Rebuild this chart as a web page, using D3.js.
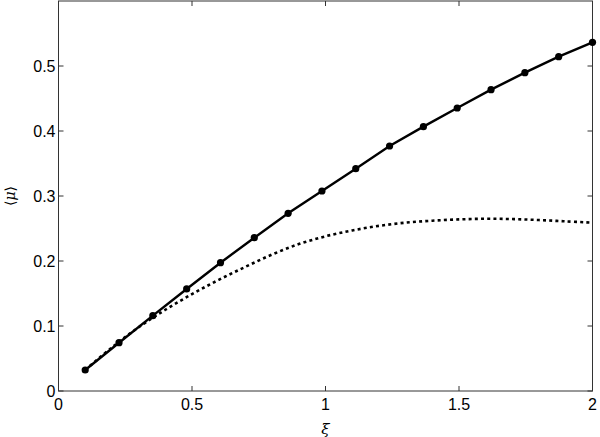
<!DOCTYPE html>
<html><head><meta charset="utf-8">
<script src="https://cdn.jsdelivr.net/npm/d3@7"></script>
<style>body{margin:0;background:#fff}svg{display:block}</style>
</head><body>
<svg id="c" width="600" height="437"></svg>
<script>
const xiSolid = [0.1,0.2267,0.3533,0.48,0.6067,0.7333,0.86,0.9867,1.1133,1.24,1.3667,1.4933,1.62,1.7467,1.8733,2.0];
const muSolid = [0.0323,0.0743,0.1159,0.157,0.1974,0.2359,0.2733,0.3077,0.342,0.3769,0.4067,0.4354,0.4636,0.4897,0.5144,0.5365];
const xiDotted = [0.1,0.2,0.3,0.4,0.5,0.6,0.7,0.8,0.9,1.0,1.1,1.2,1.3,1.4,1.5,1.6,1.7,1.8,1.9,2.0];
const muDotted = [0.0323,0.067,0.098,0.125,0.149,0.171,0.191,0.210,0.226,0.238,0.247,0.254,0.259,0.262,0.264,0.265,0.2645,0.263,0.261,0.259];
const xTicks = [0,0.5,1,1.5,2];
const xTickLabels = ["0","0.5","1","1.5","2"];
const yTicks = [0,0.1,0.2,0.3,0.4,0.5];
const yTickLabels = ["0","0.1","0.2","0.3","0.4","0.5"];

const svg = d3.select("#c");
const L=58.5, R=592.5, T=1, B=391;
const x = d3.scaleLinear().domain([0,2]).range([L,R]);
const y = d3.scaleLinear().domain([0,0.6]).range([B,T]);
const axisCol = "#333";
const font = "'Liberation Sans', Arial, sans-serif";

// frame
svg.append("rect").attr("x",L).attr("y",T).attr("width",R-L).attr("height",B-T)
  .attr("fill","none").attr("stroke",axisCol).attr("stroke-width",1);

const tl = 5;
const g = svg.append("g");
xTicks.forEach((v,i)=>{
  const px = x(v);
  g.append("line").attr("x1",px).attr("x2",px).attr("y1",B).attr("y2",B-tl).attr("stroke",axisCol);
  g.append("line").attr("x1",px).attr("x2",px).attr("y1",T).attr("y2",T+tl).attr("stroke",axisCol);
  g.append("text").attr("x",px).attr("y",410).attr("text-anchor","middle")
    .attr("font-family",font).attr("font-size",16).attr("fill","#000").text(xTickLabels[i]);
});
yTicks.forEach((v,i)=>{
  const py = y(v);
  g.append("line").attr("x1",L).attr("x2",L+tl).attr("y1",py).attr("y2",py).attr("stroke",axisCol);
  g.append("line").attr("x1",R).attr("x2",R-tl).attr("y1",py).attr("y2",py).attr("stroke",axisCol);
  g.append("text").attr("x",L-3).attr("y",py+6).attr("text-anchor","end")
    .attr("font-family",font).attr("font-size",16).attr("fill","#000").text(yTickLabels[i]);
});

// dotted curve
const dotted = xiDotted.map((v,i)=>[v,muDotted[i]]);
svg.append("path").datum(dotted)
  .attr("d", d3.line().x(d=>x(d[0])).y(d=>y(d[1])).curve(d3.curveCatmullRom))
  .attr("fill","none").attr("stroke","#000").attr("stroke-width",2.6).attr("stroke-dasharray","3,3.2");

// solid line
const solid = xiSolid.map((v,i)=>[v,muSolid[i]]);
svg.append("path").datum(solid)
  .attr("d", d3.line().x(d=>x(d[0])).y(d=>y(d[1])))
  .attr("fill","none").attr("stroke","#000").attr("stroke-width",2.4);
svg.selectAll("circle.m").data(solid).enter().append("circle")
  .attr("cx",d=>x(d[0])).attr("cy",d=>y(d[1])).attr("r",3.6).attr("fill","#000");

// axis labels
svg.append("text").attr("x",x(1)).attr("y",434).attr("text-anchor","middle")
  .attr("font-family","'DejaVu Serif', serif").attr("font-style","italic").attr("font-size",15).text("ξ");
const yl = svg.append("text").attr("transform",`translate(15,${(T+B)/2}) rotate(-90)`)
  .attr("text-anchor","middle").attr("font-family","'DejaVu Serif', serif").attr("font-size",14);
yl.append("tspan").text("⟨");
yl.append("tspan").attr("font-style","italic").text("μ");
yl.append("tspan").text("⟩");
</script>
</body></html>
